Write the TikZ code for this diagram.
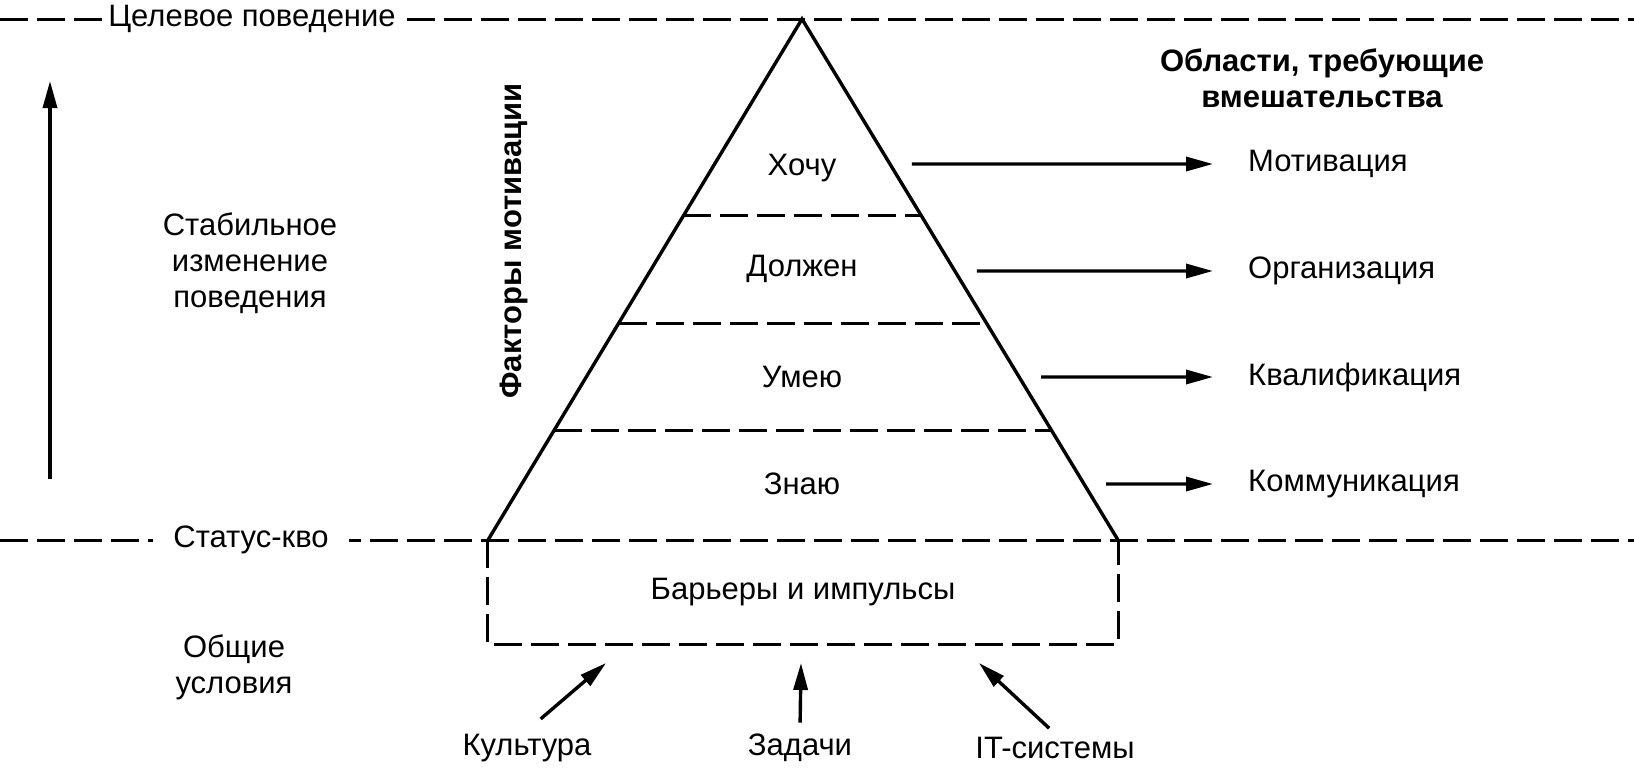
\documentclass[tikz,border=0pt]{standalone}
\usepackage{fontspec}
\setmainfont{Liberation Sans}
\usetikzlibrary{arrows.meta,positioning,calc}

\begin{document}
\begin{tikzpicture}[x=1pt,y=-1pt,every node/.style={font=\fontsize{31}{36}\selectfont},
 head/.style={font=\fontsize{31}{36}\selectfont\bfseries,align=center},
 dsh/.style={line width=3pt,dash pattern=on 28pt off 9pt},
 arr/.style={line width=3.4pt,-{Triangle[length=27pt,width=14pt]}},
 area/.style={anchor=west,inner sep=0pt}]
\useasboundingbox (0,0) rectangle (1634,769);
\coordinate (top) at (802,19);\coordinate (bl) at (488,540);\coordinate (br) at (1118,540);
\draw[dsh] (0,19) -- (1634,19);\draw[dsh] (0,540) -- (1634,540);
\draw[line width=3.4pt] (bl) -- (top) -- (br);
\foreach \t in {0.378,0.5835,0.789} \draw[dsh] ($(top)!\t!(bl)$) -- ($(top)!\t!(br)$);
\node[fill=white,inner xsep=4pt](target) at (252,19){Целевое поведение};
\node[fill=white,inner xsep=20pt](status) at (251,540){Статус-кво};
\node[minimum width=630pt,minimum height=104pt](bar) at (803,592){Барьеры и импульсы};
\draw[dsh] (bar.north west) |- (bar.south east) -- (bar.north east);
\node(want) at (802,168){Хочу};\node(must) at (802,269){Должен};
\node(can) at (802,377){Умею};\node(know) at (802,484){Знаю};
\node[head,rotate=90](factors) at (514,241){Факторы мотивации};
\node[head](areas) at (1322,78){Области, требующие\\вмешательства};
\node[area](motiv) at (1248,164){Мотивация};\node[area](org) at (1248,271){Организация};
\node[area](qual) at (1248,377){Квалификация};\node[area](comm) at (1248,484){Коммуникация};
\coordinate (r1) at ($(top)!0.2783!(br)$);\coordinate (r2) at ($(top)!0.4837!(br)$);
\coordinate (r3) at ($(top)!0.6871!(br)$);\coordinate (r4) at ($(top)!0.8925!(br)$);
\draw[arr,shorten <=22pt,shorten >=35pt] (r1) -- (motiv.west);
\draw[arr,shorten <=22pt,shorten >=35pt] (r2) -- (org.west);
\draw[arr,shorten <=22pt,shorten >=35pt] (r3) -- (qual.west);
\draw[arr,shorten <=22pt,shorten >=35pt] (r4) -- (comm.west);
\node[align=center](stable) at (250,263){Стабильное\\изменение\\поведения};
\node[align=center](general) at (234,667){Общие\\условия};
\coordinate (up0) at (50,479);\coordinate (up1) at (50,81);
\draw[arr] (up0) -- (up1);
\node(culture) at (527,748){Культура};\node(tasks) at (800,748){Задачи};\node(itsys) at (1055,748){IT-системы};
\coordinate (cu) at (606,663);\coordinate (ta) at (801,663);\coordinate (it) at (979,663);
\draw[arr,shorten <=18pt] (culture.north) -- (cu);\draw[arr,shorten <=8pt] (tasks.north) -- (ta);
\draw[arr,shorten <=8pt] (itsys.north) -- (it);
\end{tikzpicture}
\end{document}
